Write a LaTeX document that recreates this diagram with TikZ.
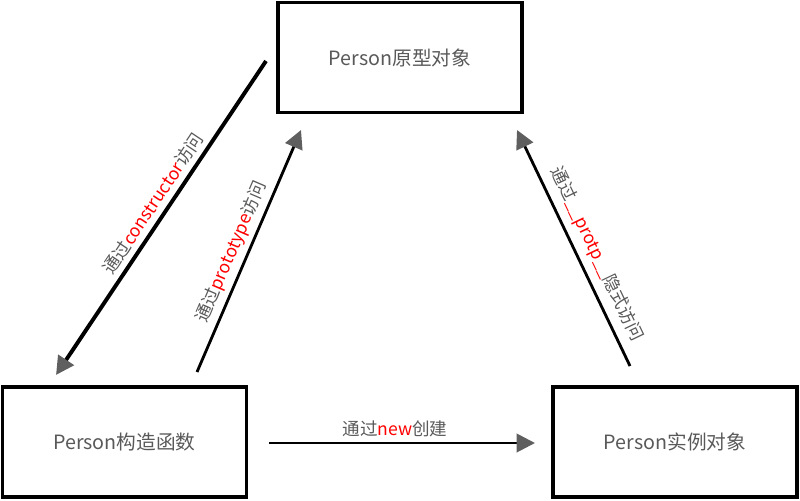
\documentclass[tikz,border=0pt]{standalone}
\usepackage{fontspec}
\setmainfont{Noto Sans CJK SC}
\usetikzlibrary{arrows.meta}
\definecolor{txtgray}{HTML}{595959}
\definecolor{tipgray}{HTML}{5F5F5F}
\newcommand{\hl}[1]{\textcolor{red}{#1}}

\begin{document}
\begin{tikzpicture}[x=0.025cm,y=-0.025cm,
    box/.style={draw,line width=2.4pt,minimum width=6.1cm,minimum height=2.75cm,text=txtgray,font=\fontsize{14}{16}\selectfont},
    link/.style={line width=2pt,-{Triangle[length=13pt,width=13pt,color=tipgray]}},
    lbl/.style={text=txtgray,font=\fontsize{12.5}{14}\selectfont}]
      \useasboundingbox (0,0) rectangle (800,500);
      \node[box] (proto) at (400,57.5) {Person原型对象};
      \node[box] (ctor) at (124.5,442) {Person构造函数};
      \node[box] (inst) at (675,442) {Person实例对象};
      \coordinate (c1) at (266,61);
      \coordinate (c2) at (56,375);
      \coordinate (p1) at (197,372);
      \coordinate (p2) at (301,130);
      \coordinate (i1) at (630,366);
      \coordinate (i2) at (517,130);
      \coordinate (n1) at (269,443);
      \coordinate (n2) at (535,443);
      \draw[link,line width=2.8pt] (c1) -- node[lbl,sloped,above,pos=0.48] {通过\hl{constructor}访问} (c2);
      \draw[link] (p1) -- node[lbl,sloped,above,pos=0.47] {通过\hl{prototype}访问} (p2);
      \draw[link] (i1) -- node[lbl,sloped,above=2pt,pos=0.44] {通过\hl{\_\_protp\_\_}隐式访问} (i2);
      \draw[link] (n1) -- node[lbl,above,pos=0.474] {通过\hl{new}创建} (n2);
\end{tikzpicture}
\end{document}
